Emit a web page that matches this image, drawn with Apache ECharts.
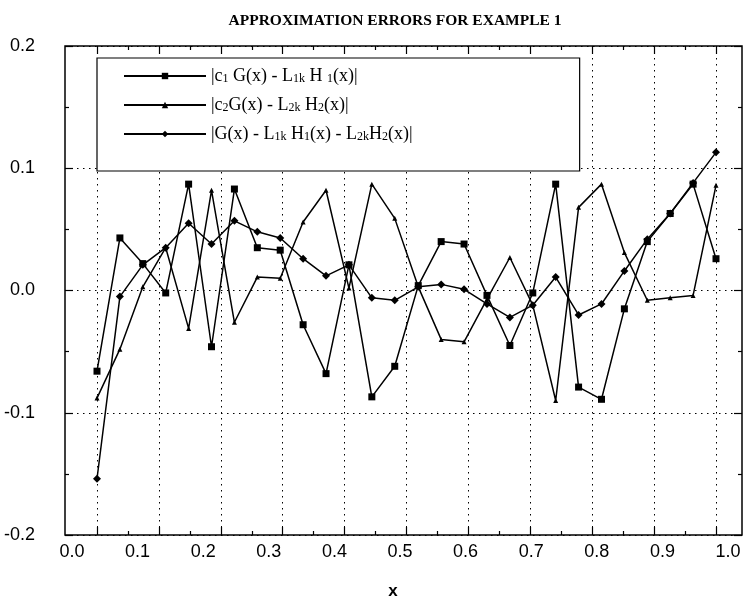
<!DOCTYPE html>
<html>
<head>
<meta charset="utf-8">
<script src="https://cdn.jsdelivr.net/npm/echarts@6/dist/echarts.min.js"></script>
<style>html,body{margin:0;padding:0;background:#fff;}#c{width:744px;height:605px;}</style>
</head>
<body>
<div id="c"></div>
<script>
// x positions of the sample points
var xValues = [0, 0.037, 0.074, 0.111, 0.148, 0.185, 0.222, 0.259, 0.296, 0.333, 0.370, 0.407, 0.444, 0.481,
               0.519, 0.556, 0.593, 0.630, 0.667, 0.704, 0.741, 0.778, 0.815, 0.852, 0.889, 0.926, 0.963, 1.0];
// |c1 G(x) - L1k H1(x)|
var err1 = [-0.066, 0.043, 0.022, -0.002, 0.087, -0.046, 0.083, 0.035, 0.033, -0.028, -0.068, 0.021, -0.087, -0.062,
            0.004, 0.040, 0.038, -0.004, -0.045, -0.002, 0.087, -0.079, -0.089, -0.015, 0.040, 0.063, 0.087, 0.026];
// |c2 G(x) - L2k H2(x)|
var err2 = [-0.088, -0.048, 0.003, 0.035, -0.031, 0.082, -0.026, 0.011, 0.010, 0.056, 0.082, 0.002, 0.087, 0.059,
            0.003, -0.040, -0.042, -0.007, 0.027, -0.012, -0.090, 0.068, 0.087, 0.031, -0.008, -0.006, -0.004, 0.086];
// |G(x) - L1k H1(x) - L2k H2(x)|
var err3 = [-0.154, -0.005, 0.021, 0.035, 0.055, 0.038, 0.057, 0.048, 0.043, 0.026, 0.012, 0.021, -0.006, -0.008,
            0.003, 0.005, 0.001, -0.011, -0.022, -0.012, 0.011, -0.020, -0.011, 0.016, 0.042, 0.063, 0.088, 0.113];
var xTicks = [0, 0.1, 0.2, 0.3, 0.4, 0.5, 0.6, 0.7, 0.8, 0.9, 1.0];
var yTicks = [-0.2, -0.1, 0.0, 0.1, 0.2];
var seriesNames = ['s1', 's2', 's3'];
var legendLabels = {
  s1: '|c{s|1} G(x) - L{s|1k} H {s|1}(x)|',
  s2: '|c{s|2}G(x) - L{s|2k} H{s|2}(x)|',
  s3: '|G(x) - L{s|1k} H{s|1}(x) - L{s|2k}H{s|2}(x)|'
};

function pairs(ys) { return ys.map(function (y, i) { return [xValues[i], y]; }); }

var chart = echarts.init(document.getElementById('c'), null, {renderer: 'canvas'});
var dotted = {color: '#000', width: 1, type: [1.5, 4.5]};
var tickStyle = {color: '#000', width: 1.2};
var sans = 'Liberation Sans';
var xMin = xTicks[0], xMax = xTicks[xTicks.length - 1];
var yMin = yTicks[0], yMax = yTicks[yTicks.length - 1];

var option = {
  animation: false,
  backgroundColor: '#fff',
  title: {
    text: 'APPROXIMATION ERRORS FOR EXAMPLE 1',
    left: 390, top: 8, textAlign: 'center',
    textStyle: {fontFamily: 'Liberation Serif', fontWeight: 'bold', fontSize: 15.5, color: '#000'}
  },
  legend: {
    orient: 'vertical', left: 97, top: 58,
    padding: [9, 167, 28, 26],
    itemWidth: 82, itemHeight: 8, itemGap: 11,
    backgroundColor: '#fff', borderColor: '#000', borderWidth: 1.2,
    data: seriesNames,
    formatter: function (n) { return legendLabels[n]; },
    textStyle: {
      fontFamily: 'Liberation Serif', fontSize: 18, color: '#000', lineHeight: 18,
      rich: { s: {fontFamily: 'Liberation Serif', fontSize: 12, lineHeight: 7, verticalAlign: 'bottom', color: '#000'} }
    }
  },
  grid: [
    {left: 97, right: 28, top: 46, bottom: 70, show: false},
    {left: 65, right: 2, top: 46, bottom: 70, show: true, borderColor: '#000', borderWidth: 1.5, backgroundColor: 'transparent'},
    {left: 72, right: 16, top: 46, bottom: 70, show: false}
  ],
  xAxis: [
    {gridIndex: 0, type: 'value', min: xMin, max: xMax, interval: 0.1, position: 'bottom',
     axisLine: {show: false, onZero: false}, axisLabel: {show: false},
     axisTick: {show: true, inside: true, length: 8, lineStyle: tickStyle},
     minorTick: {show: true, splitNumber: 2, length: 4, lineStyle: tickStyle},
     splitLine: {show: true, lineStyle: dotted}},
    {gridIndex: 0, type: 'value', min: xMin, max: xMax, interval: 0.1, position: 'top',
     axisLine: {show: false, onZero: false}, axisLabel: {show: false},
     axisTick: {show: true, inside: true, length: 8, lineStyle: tickStyle},
     minorTick: {show: true, splitNumber: 2, length: 4, lineStyle: tickStyle},
     splitLine: {show: false}},
    {gridIndex: 1, type: 'value', min: 0, max: 1, show: false, axisLine: {onZero: false}},
    {gridIndex: 2, type: 'value', min: xMin, max: xMax, interval: 0.1, position: 'bottom',
     axisLine: {show: false, onZero: false}, axisTick: {show: false}, splitLine: {show: false},
     axisLabel: {show: true, margin: 9, color: '#000', fontFamily: sans, fontSize: 18,
                 formatter: function (v) { return v.toFixed(1); }},
     name: 'x', nameLocation: 'middle', nameGap: 49,
     nameTextStyle: {fontFamily: sans, fontWeight: 'bold', fontSize: 17, color: '#000', padding: [0, 14, 0, 0]}}
  ],
  yAxis: [
    {gridIndex: 0, type: 'value', min: yMin, max: yMax, show: false, axisLine: {onZero: false}},
    {gridIndex: 1, type: 'value', min: yMin, max: yMax, interval: 0.1, position: 'left',
     axisLine: {show: false, onZero: false},
     axisTick: {show: true, inside: true, length: 8, lineStyle: tickStyle},
     minorTick: {show: true, splitNumber: 2, length: 4, lineStyle: tickStyle},
     splitLine: {show: true, lineStyle: dotted},
     axisLabel: {show: true, margin: 30, color: '#000', fontFamily: sans, fontSize: 18,
                 formatter: function (v) { return v.toFixed(1); }}},
    {gridIndex: 1, type: 'value', min: yMin, max: yMax, interval: 0.1, position: 'right',
     axisLine: {show: false, onZero: false}, axisLabel: {show: false}, splitLine: {show: false},
     axisTick: {show: true, inside: true, length: 8, lineStyle: tickStyle},
     minorTick: {show: true, splitNumber: 2, length: 4, lineStyle: tickStyle}},
    {gridIndex: 2, type: 'value', min: yMin, max: yMax, show: false, axisLine: {onZero: false}}
  ],
  series: [
    {name: 's1', type: 'line', xAxisIndex: 0, yAxisIndex: 0, data: pairs(err1),
     symbol: 'rect', symbolSize: 7, showAllSymbol: true,
     lineStyle: {color: '#000', width: 1.5}, itemStyle: {color: '#000'}, z: 5},
    {name: 's2', type: 'line', xAxisIndex: 0, yAxisIndex: 0, data: pairs(err2),
     symbol: 'triangle', symbolSize: 5, showAllSymbol: true,
     lineStyle: {color: '#000', width: 1.5}, itemStyle: {color: '#000'}, z: 5},
    {name: 's3', type: 'line', xAxisIndex: 0, yAxisIndex: 0, data: pairs(err3),
     symbol: 'diamond', symbolSize: 8, showAllSymbol: true,
     lineStyle: {color: '#000', width: 1.5}, itemStyle: {color: '#000'}, z: 5}
  ]
};
chart.setOption(option);
</script>
</body>
</html>
